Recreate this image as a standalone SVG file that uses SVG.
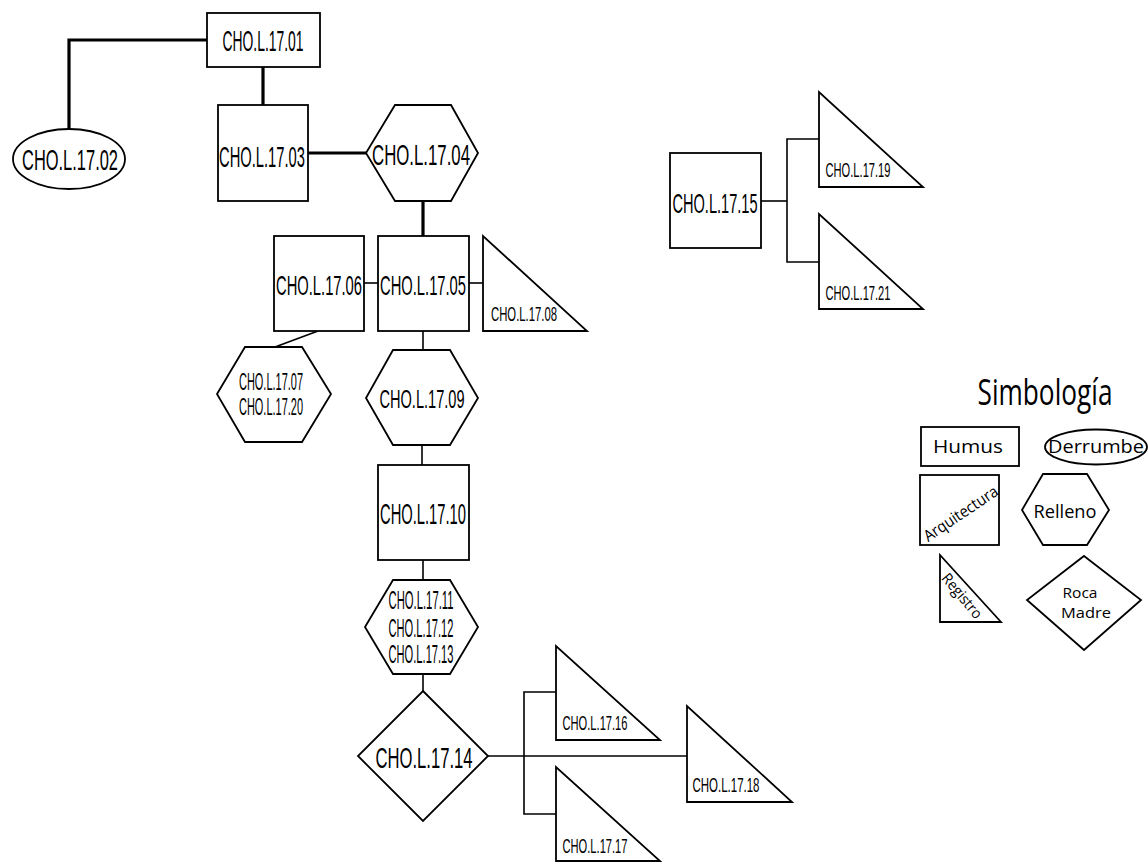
<svg xmlns="http://www.w3.org/2000/svg" width="1148" height="863" viewBox="0 0 1148 863">
<style>
.s{fill:#fff;stroke:#000;stroke-width:1.8}
.c{fill:none;stroke:#000;stroke-width:1.6}
.k{fill:none;stroke:#000;stroke-width:3.2}
text{font-family:"Liberation Sans",Arial,sans-serif;fill:#000;text-anchor:middle}
.lg{font-family:"Open Sans","Liberation Sans",sans-serif}
</style>
<rect width="1148" height="863" fill="#fff"/>
<g id="connectors">
<polyline class="k" points="207,40 69,40 69,129"/>
<line class="k" x1="263" y1="67" x2="263" y2="105"/>
<line class="k" x1="308" y1="153" x2="366" y2="153"/>
<line class="k" x1="423" y1="201" x2="423" y2="236"/>
<line class="c" x1="364" y1="283" x2="378" y2="283"/>
<line class="c" x1="469" y1="283" x2="483" y2="283"/>
<line class="c" x1="318" y1="331" x2="275" y2="347"/>
<line class="c" x1="423" y1="331" x2="423" y2="350"/>
<line class="c" x1="422" y1="445" x2="422" y2="465"/>
<line class="c" x1="423" y1="560" x2="423" y2="580"/>
<line class="c" x1="423" y1="674" x2="423" y2="691"/>
<line class="c" x1="488" y1="756" x2="687" y2="756"/>
<polyline class="c" points="556,692 524,692 524,814 556,814"/>
<line class="c" x1="761" y1="201" x2="787" y2="201"/>
<polyline class="c" points="819,139 787,139 787,262 819,262"/>
</g>
<g id="n01"><rect class="s" x="207" y="13" width="113" height="54"/><text x="263" y="51" font-size="30" textLength="81" lengthAdjust="spacingAndGlyphs">CHO.L.17.01</text></g>
<g id="n02"><ellipse class="s" cx="69" cy="159" rx="56" ry="30"/><text x="70" y="170" font-size="30" textLength="96" lengthAdjust="spacingAndGlyphs">CHO.L.17.02</text></g>
<g id="n03"><rect class="s" x="218" y="105" width="90" height="96"/><text x="262" y="167" font-size="29" textLength="86" lengthAdjust="spacingAndGlyphs">CHO.L.17.03</text></g>
<g id="n04"><polygon class="s" points="395,105 451,105 478,153 451,201 395,201 366,153"/><text x="421" y="165" font-size="29" textLength="98" lengthAdjust="spacingAndGlyphs">CHO.L.17.04</text></g>
<g id="n06"><rect class="s" x="274" y="236" width="90" height="95"/><text x="319" y="295" font-size="28" textLength="86" lengthAdjust="spacingAndGlyphs">CHO.L.17.06</text></g>
<g id="n05"><rect class="s" x="378" y="236" width="91" height="95"/><text x="423" y="295" font-size="28" textLength="86" lengthAdjust="spacingAndGlyphs">CHO.L.17.05</text></g>
<g id="n08"><polygon class="s" points="483,236 483,331 587,331"/><text x="524" y="321" font-size="20" textLength="66" lengthAdjust="spacingAndGlyphs">CHO.L.17.08</text></g>
<g id="n07"><polygon class="s" points="245,347 302,347 331,394 302,442 245,442 217,394"/><text x="271" y="390" font-size="24" textLength="64" lengthAdjust="spacingAndGlyphs">CHO.L.17.07</text><text x="271" y="415" font-size="24" textLength="64" lengthAdjust="spacingAndGlyphs">CHO.L.17.20</text></g>
<g id="n09"><polygon class="s" points="393,350 450,350 478,398 450,445 393,445 366,398"/><text x="422" y="408" font-size="26" textLength="85" lengthAdjust="spacingAndGlyphs">CHO.L.17.09</text></g>
<g id="n10"><rect class="s" x="378" y="465" width="91" height="95"/><text x="423" y="524" font-size="29" textLength="86" lengthAdjust="spacingAndGlyphs">CHO.L.17.10</text></g>
<g id="n11"><polygon class="s" points="393,580 450,580 478,627 450,674 393,674 365,627"/><text x="421" y="609" font-size="25" textLength="65" lengthAdjust="spacingAndGlyphs">CHO.L.17.11</text><text x="421" y="637" font-size="25" textLength="65" lengthAdjust="spacingAndGlyphs">CHO.L.17.12</text><text x="421" y="663" font-size="25" textLength="65" lengthAdjust="spacingAndGlyphs">CHO.L.17.13</text></g>
<g id="n14"><polygon class="s" points="423,691 488,756 423,821 358,756"/><text x="424" y="768" font-size="29" textLength="97" lengthAdjust="spacingAndGlyphs">CHO.L.17.14</text></g>
<g id="n16"><polygon class="s" points="556,646 556,740 660,740"/><text x="595" y="730" font-size="21" textLength="65" lengthAdjust="spacingAndGlyphs">CHO.L.17.16</text></g>
<g id="n17"><polygon class="s" points="556,767 556,861 660,861"/><text x="595" y="853" font-size="21" textLength="65" lengthAdjust="spacingAndGlyphs">CHO.L.17.17</text></g>
<g id="n18"><polygon class="s" points="687,706 687,802 792,802"/><text x="726" y="792" font-size="21" textLength="67" lengthAdjust="spacingAndGlyphs">CHO.L.17.18</text></g>
<g id="n15"><rect class="s" x="670" y="153" width="91" height="95"/><text x="715" y="213" font-size="28" textLength="85" lengthAdjust="spacingAndGlyphs">CHO.L.17.15</text></g>
<g id="n19"><polygon class="s" points="819,92 819,187 923,187"/><text x="858" y="177" font-size="20" textLength="65" lengthAdjust="spacingAndGlyphs">CHO.L.17.19</text></g>
<g id="n21"><polygon class="s" points="819,214 819,309 923,309"/><text x="858" y="300" font-size="20" textLength="65" lengthAdjust="spacingAndGlyphs">CHO.L.17.21</text></g>
<g id="legend">
<text class="lg" x="1045" y="405" font-size="37" textLength="135" lengthAdjust="spacingAndGlyphs">Simbología</text>
<g id="l-humus"><rect class="s" x="921" y="427" width="98" height="39"/><text class="lg" x="968" y="453" font-size="19" textLength="70" lengthAdjust="spacingAndGlyphs">Humus</text></g>
<g id="l-derrumbe"><ellipse class="s" cx="1096" cy="447" rx="51" ry="17.5"/><text class="lg" x="1096" y="453" font-size="19" textLength="96" lengthAdjust="spacingAndGlyphs">Derrumbe</text></g>
<g id="l-arquitectura"><rect class="s" x="920" y="475" width="79" height="70"/><text class="lg" x="961" y="519" font-size="16" textLength="86" lengthAdjust="spacingAndGlyphs" transform="rotate(-34 961 514)">Arquitectura</text></g>
<g id="l-relleno"><polygon class="s" points="1043,474 1087,474 1109,510 1087,545 1043,545 1022,510"/><text class="lg" x="1065" y="518" font-size="19" textLength="63" lengthAdjust="spacingAndGlyphs">Relleno</text></g>
<g id="l-registro"><polygon class="s" points="940,555 940,622 1001,622"/><text class="lg" x="962" y="601" font-size="15" textLength="54" lengthAdjust="spacingAndGlyphs" transform="rotate(50 962 596)">Registro</text></g>
<g id="l-roca"><polygon class="s" points="1084,556 1141,600 1084,650 1027,600"/><text class="lg" x="1080" y="598" font-size="15" textLength="35" lengthAdjust="spacingAndGlyphs">Roca</text><text class="lg" x="1086" y="618" font-size="15" textLength="50" lengthAdjust="spacingAndGlyphs">Madre</text></g>
</g>
</svg>
